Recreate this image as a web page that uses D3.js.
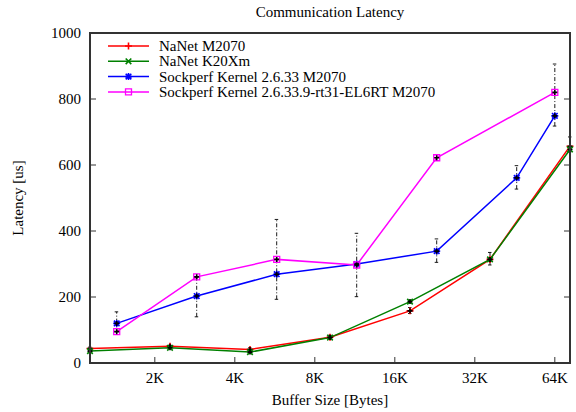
<!DOCTYPE html>
<html><head><meta charset="utf-8">
<script src="https://cdn.jsdelivr.net/npm/d3@7"></script>
<style>body{margin:0;background:#fff}svg{display:block}text{font-family:"Liberation Serif","Times New Roman",serif;fill:#000}</style>
</head><body><svg id="c" width="576" height="412"></svg>
<script>
// ---- data ----
const nanetX = [1168, 2336, 4672, 9344, 18688, 37376, 74752];
const nanetM2070 = [44, 51, 41, 78, 158, 314, 657];
const nanetK20Xm = [36, 46, 33, 77, 186, 314, 647];
const sockX = [1472, 2944, 5888, 11776, 23552, 47104, 65536];
const sockKernel = [120, 203, 269, 300, 339, 561, 749];
const sockRTX = [1472, 2944, 5888, 11776, 23552, 65536];
const sockRT = [95, 261, 314, 297, 622, 820];
const errX  = [1168, 1472, 2336, 2944, 4672, 5888, 9344, 11776, 18688, 23552, 37376, 47104, 65536, 74752];
const errLo = [38, 95, 44, 140, 35, 193, 72, 201, 150, 305, 297, 527, 718, 640];
const errHi = [48, 155, 54, 261, 46, 435, 84, 393, 168, 376, 335, 598, 906, 685];
const xTickVals = [2048, 4096, 8192, 16384, 32768, 65536];
const xTickLabels = ["2K", "4K", "8K", "16K", "32K", "64K"];
const yTickVals = [0, 200, 400, 600, 800, 1000];
const seriesNames = ["NaNet M2070", "NaNet K20Xm", "Sockperf Kernel 2.6.33 M2070", "Sockperf Kernel 2.6.33.9-rt31-EL6RT M2070"];

const series = [
  {name: seriesNames[0], xs: nanetX, ys: nanetM2070, color: "#ff0000", mk: "plus"},
  {name: seriesNames[1], xs: nanetX, ys: nanetK20Xm, color: "#008000", mk: "cross"},
  {name: seriesNames[2], xs: sockX, ys: sockKernel, color: "#0000ff", mk: "star"},
  {name: seriesNames[3], xs: sockRTX, ys: sockRT, color: "#ff00ff", mk: "square"}
];

const L = 90, R = 570, T = 33, B = 363;
const svg = d3.select("#c");
const x = d3.scaleLog().base(2).domain([1168, 74752]).range([L, R]);
const y = d3.scaleLinear().domain([0, 1000]).range([B, T]);

function marker(g, type, cx, cy, color, s) {
  const p = d3.path();
  if (type === "plus" || type === "star") { p.moveTo(cx - s, cy); p.lineTo(cx + s, cy); p.moveTo(cx, cy - s); p.lineTo(cx, cy + s); }
  if (type === "cross" || type === "star") { const d = s * 0.8; p.moveTo(cx - d, cy - d); p.lineTo(cx + d, cy + d); p.moveTo(cx - d, cy + d); p.lineTo(cx + d, cy - d); }
  if (type === "square") { p.rect(cx - s + 0.5, cy - s + 0.5, 2 * s - 1, 2 * s - 1); }
  g.append("path").attr("d", p.toString()).attr("fill", "none").attr("stroke", color).attr("stroke-width", type === "square" ? 1.3 : 1.6);
}

// clip
svg.append("clipPath").attr("id", "clip").append("rect").attr("x", L).attr("y", T).attr("width", R - L).attr("height", B - T);
const plot = svg.append("g");

// lines
const line = d3.line().x(d => x(d[0])).y(d => y(d[1]));
series.forEach(s => {
  const pts = s.xs.map((v, i) => [v, s.ys[i]]);
  plot.append("path").attr("d", line(pts)).attr("fill", "none").attr("stroke", s.color).attr("stroke-width", 1.5);
});

// error bars
const eg = plot.append("g");
errX.forEach((v, i) => {
  const cx = x(v);
  eg.append("line").attr("x1", cx).attr("x2", cx).attr("y1", y(errLo[i])).attr("y2", y(errHi[i]))
    .attr("stroke", "#000").attr("stroke-width", 0.9).attr("stroke-dasharray", "4,2,1,2");
  [errLo[i], errHi[i]].forEach(e => {
    eg.append("line").attr("x1", cx - 2).attr("x2", cx + 1.5).attr("y1", y(e)).attr("y2", y(e)).attr("stroke", "#000").attr("stroke-width", 0.9);
  });
});

// markers
series.forEach(s => {
  s.xs.forEach((v, i) => {
    marker(plot, s.mk, x(v), y(s.ys[i]), s.color, 3.5);
    marker(plot, "plus", x(v), y(s.ys[i]), "#000", 2.5);
  });
});

// axes ticks
const ax = svg.append("g").attr("stroke", "#333").attr("stroke-width", 1);
yTickVals.forEach(v => {
  ax.append("line").attr("x1", L).attr("x2", L + 6).attr("y1", y(v)).attr("y2", y(v));
  ax.append("line").attr("x1", R - 6).attr("x2", R).attr("y1", y(v)).attr("y2", y(v));
  svg.append("text").attr("x", 81).attr("y", y(v) + 5).attr("text-anchor", "end").attr("font-size", 15).text(v);
});
xTickVals.forEach((v, i) => {
  ax.append("line").attr("x1", x(v)).attr("x2", x(v)).attr("y1", B).attr("y2", B - 6);
  svg.append("text").attr("x", x(v)).attr("y", 383).attr("text-anchor", "middle").attr("font-size", 15).text(xTickLabels[i]);
});

// border
svg.append("rect").attr("x", L).attr("y", T).attr("width", R - L).attr("height", B - T)
  .attr("fill", "none").attr("stroke", "#333").attr("stroke-width", 2);

// titles
svg.append("text").attr("x", (L + R) / 2).attr("y", 17).attr("text-anchor", "middle").attr("font-size", 15).text("Communication Latency");
svg.append("text").attr("x", (L + R) / 2).attr("y", 405).attr("text-anchor", "middle").attr("font-size", 15).text("Buffer Size [Bytes]");
svg.append("text").attr("transform", "translate(23,198) rotate(-90)").attr("text-anchor", "middle").attr("font-size", 15).text("Latency [us]");

// legend
const lg = svg.append("g");
series.forEach((s, i) => {
  const ly = 46 + i * 15.3;
  lg.append("line").attr("x1", 108).attr("x2", 149).attr("y1", ly).attr("y2", ly).attr("stroke", s.color).attr("stroke-width", 1.5);
  marker(lg, s.mk, 128.5, ly, s.color, 3.5);
  lg.append("text").attr("x", 159).attr("y", ly + 5).attr("font-size", 15).text(s.name);
});
</script></body></html>
